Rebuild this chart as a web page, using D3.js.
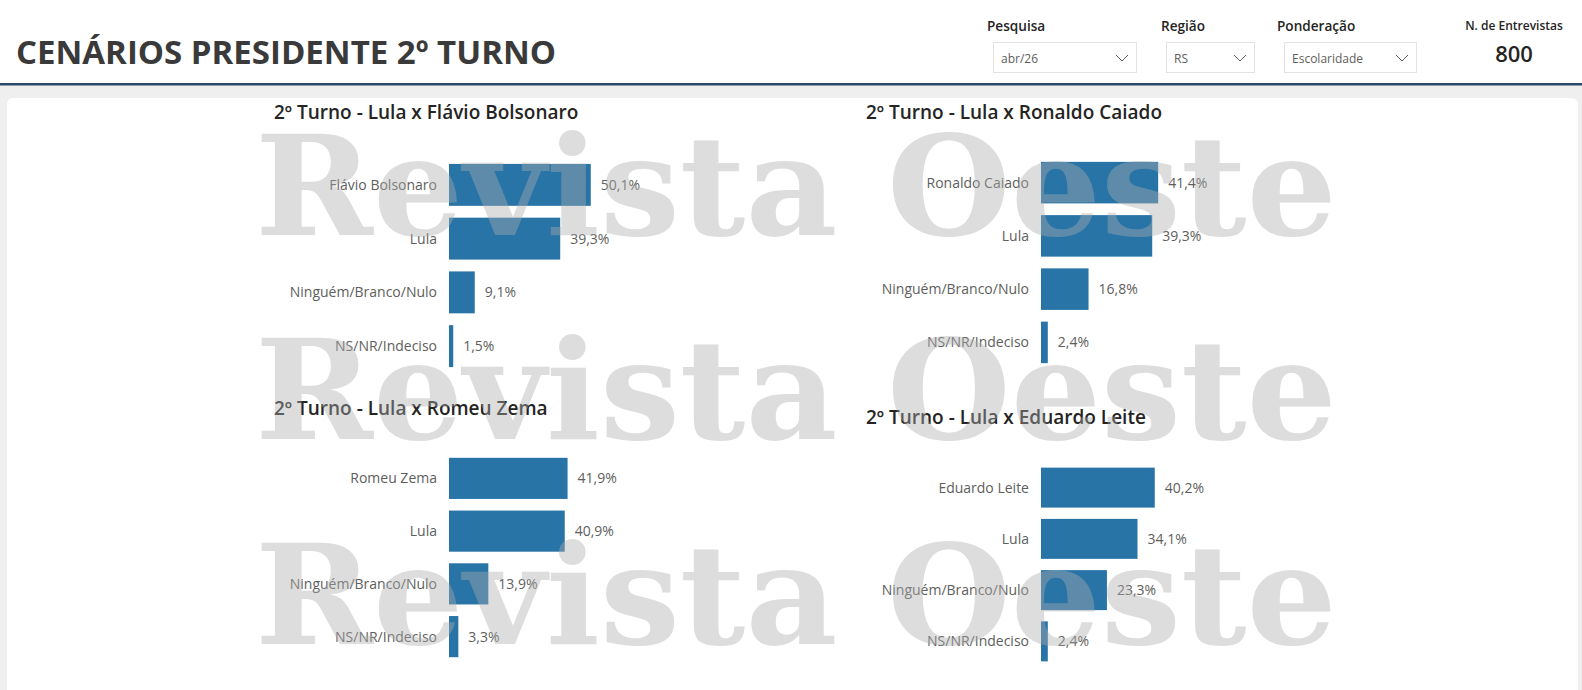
<!DOCTYPE html>
<html>
<head>
<meta charset="utf-8">
<script src="https://cdn.jsdelivr.net/npm/d3@7"></script>
<style>
  body { margin: 0; background: #fff; }
  svg { display: block; font-family: 'Open Sans', 'Noto Sans', sans-serif; }
</style>
</head>
<body>
<svg id="chart"></svg>
<script>
// chart data
const pageTitle = 'CENÁRIOS PRESIDENTE 2º TURNO'
const filterLabels = ['Pesquisa', 'Região', 'Ponderação']
const filterValues = ['abr/26', 'RS', 'Escolaridade']
const interviewsLabel = 'N. de Entrevistas'
const interviews = 800

const scenarioTitles = [
    '2º Turno - Lula x Flávio Bolsonaro',
    '2º Turno - Lula x Ronaldo Caiado',
    '2º Turno - Lula x Romeu Zema',
    '2º Turno - Lula x Eduardo Leite'
]
const categories1 = ['Flávio Bolsonaro', 'Lula', 'Ninguém/Branco/Nulo', 'NS/NR/Indeciso']
const categories2 = ['Ronaldo Caiado', 'Lula', 'Ninguém/Branco/Nulo', 'NS/NR/Indeciso']
const categories3 = ['Romeu Zema', 'Lula', 'Ninguém/Branco/Nulo', 'NS/NR/Indeciso']
const categories4 = ['Eduardo Leite', 'Lula', 'Ninguém/Branco/Nulo', 'NS/NR/Indeciso']
const values1 = [50.1, 39.3, 9.1, 1.5]
const values2 = [41.4, 39.3, 16.8, 2.4]
const values3 = [41.9, 40.9, 13.9, 3.3]
const values4 = [40.2, 34.1, 23.3, 2.4]

const watermarkText = 'Revista Oeste'

var width = 1582
var height = 690
var barColor = '#2874a7'

var ptBR = d3.formatLocale({ decimal: ',', thousands: '.', grouping: [3], currency: ['R$', ''] })
var fmt = ptBR.format('.1f')

var svg = d3.select('#chart')
    .attr('width', width)
    .attr('height', height)

// background + header
svg.append('rect').attr('width', width).attr('height', height).attr('fill', '#efefef')
svg.append('rect').attr('width', width).attr('height', 84).attr('fill', '#fff')
svg.append('rect').attr('y', 83).attr('width', width).attr('height', 2.5).attr('fill', '#2b4a66')
svg.append('rect')
    .attr('x', 7).attr('y', 98).attr('width', 1571).attr('height', 620)
    .attr('rx', 6).attr('fill', '#fff')

svg.append('text')
    .attr('x', 16).attr('y', 64)
    .attr('font-size', 33).attr('font-weight', 700)
    .attr('fill', '#3a3a3a')
    .text(pageTitle)

// slicers
var slicers = [
    { labelX: 987, x: 993, w: 143 },
    { labelX: 1161, x: 1166, w: 88 },
    { labelX: 1277, x: 1284, w: 132 }
]
slicers.forEach(function(s, i) {
    svg.append('text')
        .attr('x', s.labelX).attr('y', 31)
        .attr('font-size', 13.6).attr('font-weight', 600)
        .attr('fill', '#252423')
        .text(filterLabels[i])
    svg.append('rect')
        .attr('x', s.x + 0.5).attr('y', 42.5).attr('width', s.w).attr('height', 30)
        .attr('fill', '#fff').attr('stroke', '#e3e3e3')
    svg.append('text')
        .attr('x', s.x + 8).attr('y', 63)
        .attr('font-size', 12).attr('fill', '#605e5c')
        .text(filterValues[i])
    var cx = s.x + s.w - 14
    svg.append('polyline')
        .attr('points', [[cx - 6, 55], [cx, 61], [cx + 6, 55]].join(' '))
        .attr('fill', 'none').attr('stroke', '#605e5c').attr('stroke-width', 1)
})

svg.append('text')
    .attr('x', 1514).attr('y', 30)
    .attr('text-anchor', 'middle')
    .attr('font-size', 12).attr('font-weight', 600)
    .attr('fill', '#252423')
    .text(interviewsLabel)
svg.append('text')
    .attr('x', 1514).attr('y', 62)
    .attr('text-anchor', 'middle')
    .attr('font-size', 22).attr('font-weight', 600)
    .attr('fill', '#252423')
    .text(interviews)

// shared value scale (same px per % in all four charts)
var x = d3.scaleLinear().domain([0, 100]).range([0, 283])

var panels = [
    { title: scenarioTitles[0], cats: categories1, vals: values1, tx: 274, ty: 119, x0: 449, y0: 158, y1: 373 },
    { title: scenarioTitles[1], cats: categories2, vals: values2, tx: 866, ty: 119, x0: 1041, y0: 156, y1: 369 },
    { title: scenarioTitles[2], cats: categories3, vals: values3, tx: 274, ty: 415, x0: 449, y0: 452, y1: 663 },
    { title: scenarioTitles[3], cats: categories4, vals: values4, tx: 866, ty: 424, x0: 1041, y0: 462, y1: 667 }
]

panels.forEach(function(p) {
    var y = d3.scaleBand()
        .domain(p.cats)
        .range([p.y0, p.y1])
        .paddingInner(0.22)
        .paddingOuter(0.11)

    var g = svg.append('g')

    g.append('text')
        .attr('x', p.tx).attr('y', p.ty)
        .attr('font-size', 19).attr('font-weight', 600)
        .attr('fill', '#252423')
        .text(p.title)

    var rows = g.selectAll('g.row')
        .data(p.cats.map(function(c, i) { return { cat: c, val: p.vals[i] } }))
        .enter().append('g')
        .attr('class', 'row')

    rows.append('rect')
        .attr('x', p.x0)
        .attr('y', function(d) { return y(d.cat) })
        .attr('width', function(d) { return x(d.val) })
        .attr('height', y.bandwidth())
        .attr('fill', barColor)

    rows.append('text')
        .attr('x', p.x0 - 12)
        .attr('y', function(d) { return y(d.cat) + y.bandwidth() / 2 })
        .attr('dy', '0.35em')
        .attr('text-anchor', 'end')
        .attr('font-size', 14)
        .attr('fill', '#605e5c')
        .text(function(d) { return d.cat })

    rows.append('text')
        .attr('x', function(d) { return p.x0 + x(d.val) + 10 })
        .attr('y', function(d) { return y(d.cat) + y.bandwidth() / 2 })
        .attr('dy', '0.35em')
        .attr('font-size', 14)
        .attr('fill', '#605e5c')
        .text(function(d) { return fmt(d.val) + '%' })
})

// watermark on top
var marks = svg.append('g').attr('pointer-events', 'none')
;[235, 439, 644].forEach(function(by) {
    marks.append('text')
        .attr('x', 255).attr('y', by)
        .attr('font-family', "'DejaVu Serif', serif")
        .attr('font-weight', 700)
        .attr('font-size', 138)
        .attr('textLength', 1082)
        .attr('lengthAdjust', 'spacingAndGlyphs')
        .attr('fill', 'rgba(173,173,173,0.41)')
        .text(watermarkText)
})
</script>
</body>
</html>
